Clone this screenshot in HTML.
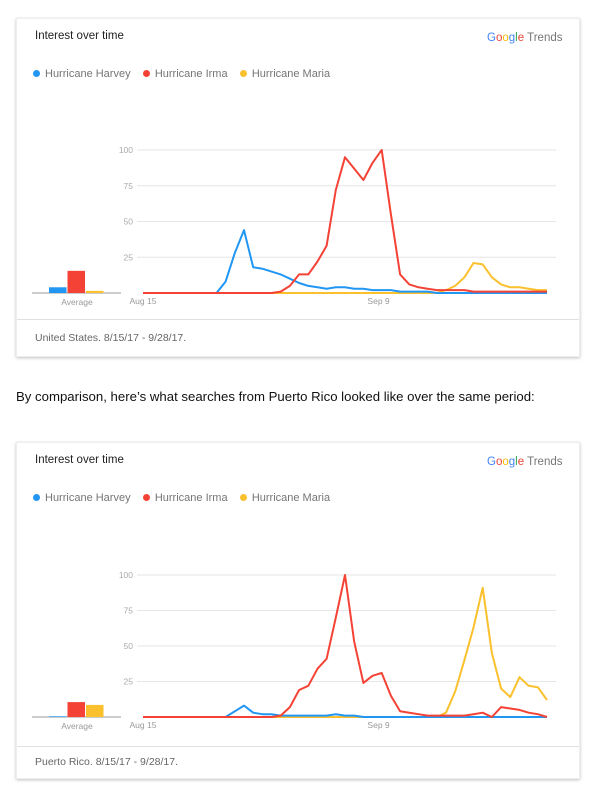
<!DOCTYPE html>
<html><head><meta charset="utf-8">
<style>
body{margin:0;width:616px;height:792px;background:#fff;font-family:"Liberation Sans",sans-serif;position:relative;overflow:hidden}
.card{position:absolute;left:16px;width:564px;background:#fff;box-shadow:0 1px 3px rgba(0,0,0,.25);border:1px solid #eee;box-sizing:border-box}
.abs{position:absolute}
.title{font-size:11.5px;color:#222}
.gt{font-size:11.5px;color:#777}
.leg{font-size:11px;color:#757575}
.dot{display:inline-block;width:7px;height:7px;border-radius:50%;margin-right:5px;vertical-align:0px}
.foot{font-size:10.5px;color:#666}
svg{position:absolute;left:0;top:0}
</style></head><body>
<div class="card" style="top:18px;height:339px">
  <div class="abs title" style="left:18px;top:11px">Interest over time</div>
  <div class="abs gt" style="left:470px;top:13px"><span style="color:#4285f4">G</span><span style="color:#ea4335">o</span><span style="color:#fbbc05">o</span><span style="color:#4285f4">g</span><span style="color:#34a853">l</span><span style="color:#ea4335">e</span> Trends</div>
  <div class="abs leg" style="left:16px;top:49px">
    <span><span class="dot" style="background:#2196f3"></span>Hurricane Harvey</span>&nbsp;&nbsp;&nbsp;
    <span><span class="dot" style="background:#f44336"></span>Hurricane Irma</span>&nbsp;&nbsp;&nbsp;
    <span><span class="dot" style="background:#fbc02d"></span>Hurricane Maria</span>
  </div>
  <div class="abs" style="left:0;top:300px;width:562px;border-top:1px solid #e0e0e0"></div>
  <div class="abs foot" style="left:18px;top:313px">United States. 8/15/17 - 9/28/17.</div>
</div>
<div class="abs" style="left:16px;top:389px;font-size:13.2px;color:#111">By comparison, here’s what searches from Puerto Rico looked like over the same period:</div>
<div class="card" style="top:442px;height:337px">
  <div class="abs title" style="left:18px;top:11px">Interest over time</div>
  <div class="abs gt" style="left:470px;top:13px"><span style="color:#4285f4">G</span><span style="color:#ea4335">o</span><span style="color:#fbbc05">o</span><span style="color:#4285f4">g</span><span style="color:#34a853">l</span><span style="color:#ea4335">e</span> Trends</div>
  <div class="abs leg" style="left:16px;top:49px">
    <span><span class="dot" style="background:#2196f3"></span>Hurricane Harvey</span>&nbsp;&nbsp;&nbsp;
    <span><span class="dot" style="background:#f44336"></span>Hurricane Irma</span>&nbsp;&nbsp;&nbsp;
    <span><span class="dot" style="background:#fbc02d"></span>Hurricane Maria</span>
  </div>
  <div class="abs" style="left:0;top:303px;width:562px;border-top:1px solid #e0e0e0"></div>
  <div class="abs foot" style="left:18px;top:313px">Puerto Rico. 8/15/17 - 9/28/17.</div>
</div>
<svg id="chart" width="616" height="792"></svg>
<script>
const yTicks=[25,50,75,100];
const xLabels=["Aug 15","Sep 9"];
const xLabelDays=[0,25];
const usHarvey=[0,0,0,0,0,0,0,0,0,8,28,44,18,17,15,13,10,7,5,4,3,4,4,3,3,2,2,2,1,1,1,1,0,0,0,0,0,0,0,0,0,0,0,0,0];
const usIrma=[0,0,0,0,0,0,0,0,0,0,0,0,0,0,0,1,5,13,13,22,33,72,95,87,79,91,100,55,13,6,4,3,2,2,2,2,1,1,1,1,1,1,1,1,1];
const usMaria=[0,0,0,0,0,0,0,0,0,0,0,0,0,0,0,0,0,0,0,0,0,0,0,0,0,0,0,0,0,0,0,0,0,2,5,11,21,20,11,6,4,4,3,2,2];
const usAvg=[4,15.5,1.5];
const prHarvey=[0,0,0,0,0,0,0,0,0,0,4,8,3,2,2,1,1,1,1,1,1,2,1,1,0,0,0,0,0,0,0,0,0,0,0,0,0,0,0,0,0,0,0,0,0];
const prIrma=[0,0,0,0,0,0,0,0,0,0,0,0,0,0,0,1,7,19,22,34,41,70,100,53,24,29,31,15,4,3,2,1,1,1,1,1,2,3,0,7,6,5,3,2,0];
const prMaria=[0,0,0,0,0,0,0,0,0,0,0,0,0,0,0,0,0,0,0,0,0,0,0,0,0,0,0,0,0,0,0,0,0,3,18,40,63,91,45,20,14,28,22,21,12];
const prAvg=[0.5,10.5,8.5];
const colors=["#2196f3","#f44336","#fbc02d"];
const NS="http://www.w3.org/2000/svg";
const svg=document.getElementById('chart');
function mk(tag,attrs){const e=document.createElementNS(NS,tag);for(const k in attrs)e.setAttribute(k,attrs[k]);svg.appendChild(e);return e;}
function draw(prefix,top100,base,series,avg){
  const x0=143,x1=547,gx1=556;
  const xs=d=>x0+(x1-x0)*d/44;
  const ys=v=>base-(base-top100)*v/100;
  yTicks.forEach(t=>{
    const l=mk('line',{x1:x0-6,x2:gx1,y1:ys(t),y2:ys(t),stroke:'#e6e6e6','stroke-width':1});
    
    
    const tx=mk('text',{x:x0-10,y:ys(t)+3,'text-anchor':'end','font-size':8.5,fill:'#aaa','font-family':'Liberation Sans'});
    tx.textContent=t;
    
    
  });
  xLabels.forEach((lab,i)=>{
    const tx=mk('text',{x:xs(xLabelDays[i])+(i==0?0:6),y:base+11,'text-anchor':'middle','font-size':8.5,fill:'#999','font-family':'Liberation Sans'});
    tx.textContent=lab;
    
    
  });
  const bl=mk('line',{x1:32,x2:121,y1:base,y2:base,stroke:'#999','stroke-width':1});
  
  
  avg.forEach((v,i)=>{
    const h=(base-top100)*v/100;
    const r=mk('rect',{x:49+i*18.5,y:base-h,width:17.5,height:h,fill:colors[i]});
    
    
  });
  const at=mk('text',{x:77,y:base+12,'text-anchor':'middle','font-size':8.5,fill:'#999','font-family':'Liberation Sans'});
  at.textContent='Average';
  
  
  const names=['harvey','irma','maria'];
  [2,0,1].forEach(si=>{
    const d=series[si].map((v,i)=>(i?'L':'M')+xs(i).toFixed(1)+','+ys(v).toFixed(1)).join('');
    const p=mk('path',{d:d,fill:'none',stroke:colors[si],'stroke-width':2,'stroke-linejoin':'round'});
    
    
  });
}
draw('us',150,293,[usHarvey,usIrma,usMaria],usAvg);
draw('pr',575,717,[prHarvey,prIrma,prMaria],prAvg);
</script>
</body></html>
